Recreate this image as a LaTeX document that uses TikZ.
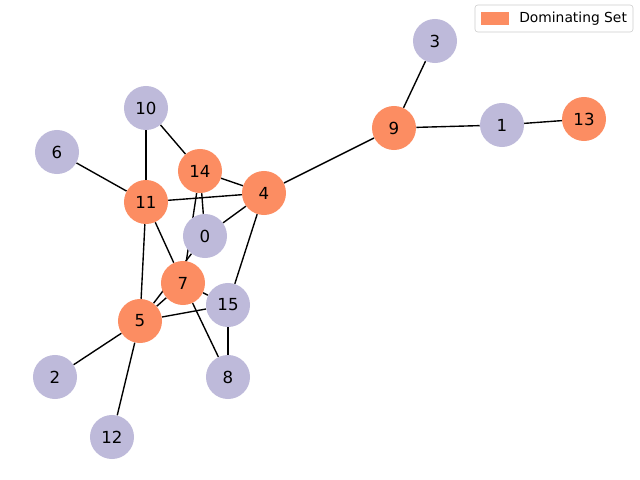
\documentclass[tikz,border=0pt]{standalone}
\usepackage{fontspec}
\setmainfont{DejaVu Sans}
\usepackage{tikz}
\usetikzlibrary{backgrounds}

\definecolor{domcol}{HTML}{FC8D62}
\definecolor{restcol}{HTML}{BEBADA}

\begin{document}
\begin{tikzpicture}[
    x=0.254mm, y=-0.254mm,
    vtx/.style={circle, minimum size=11.18mm, inner sep=0pt, fill=restcol, font=\fontsize{12}{14}\selectfont},
    dom/.style={vtx, fill=domcol},
    edge/.style={line width=1pt, black},
    lgd/.style={font=\fontsize{10}{12}\selectfont, inner sep=0pt, anchor=west}
]
\useasboundingbox (0,0) rectangle (640,480);
% dominating set
\node[dom] (n9) at (394,128) {9};
\node[dom] (n13) at (584,119) {13};
\node[dom] (n14) at (200,171) {14};
\node[dom] (n11) at (146,202) {11};
\node[dom] (n4) at (264,193) {4};
\node[dom] (n7) at (183,283) {7};
\node[dom] (n5) at (140,321) {5};
% other vertices
\node[vtx] (n3) at (435,41) {3};
\node[vtx] (n1) at (502,125) {1};
\node[vtx] (n10) at (146,108) {10};
\node[vtx] (n6) at (57,152) {6};
\node[vtx] (n0) at (205,236) {0};
\node[vtx] (n15) at (228,305) {15};
\node[vtx] (n2) at (55,377) {2};
\node[vtx] (n8) at (228,377) {8};
\node[vtx] (n12) at (112,437) {12};

\begin{scope}[on background layer]
\draw[edge] (n3) -- (n9);
\draw[edge] (n9) -- (n1);
\draw[edge] (n1) -- (n13);
\draw[edge] (n9) -- (n4);
\draw[edge] (n10) -- (n14);
\draw[edge] (n10) -- (n11);
\draw[edge] (n6) -- (n11);
\draw[edge] (n14) -- (n4);
\draw[edge] (n11) -- (n4);
\draw[edge] (n14) -- (n0);
\draw[edge] (n14) -- (n7);
\draw[edge] (n4) -- (n0);
\draw[edge] (n4) -- (n15);
\draw[edge] (n11) -- (n7);
\draw[edge] (n11) -- (n5);
\draw[edge] (n0) -- (n5);
\draw[edge] (n7) -- (n5);
\draw[edge] (n7) -- (n15);
\draw[edge] (n7) -- (n8);
\draw[edge] (n5) -- (n15);
\draw[edge] (n15) -- (n8);
\draw[edge] (n5) -- (n2);
\draw[edge] (n5) -- (n12);
\end{scope}

% legend
\draw[black!20, fill=white, rounded corners=2pt] (475,5) rectangle (633,32);
\node[fill=domcol, minimum width=7.1mm, minimum height=3.3mm, inner sep=0pt] (patch) at (495,19) {};
\node[lgd] (lgdtext) at (519,19) {Dominating Set};
\end{tikzpicture}
\end{document}
